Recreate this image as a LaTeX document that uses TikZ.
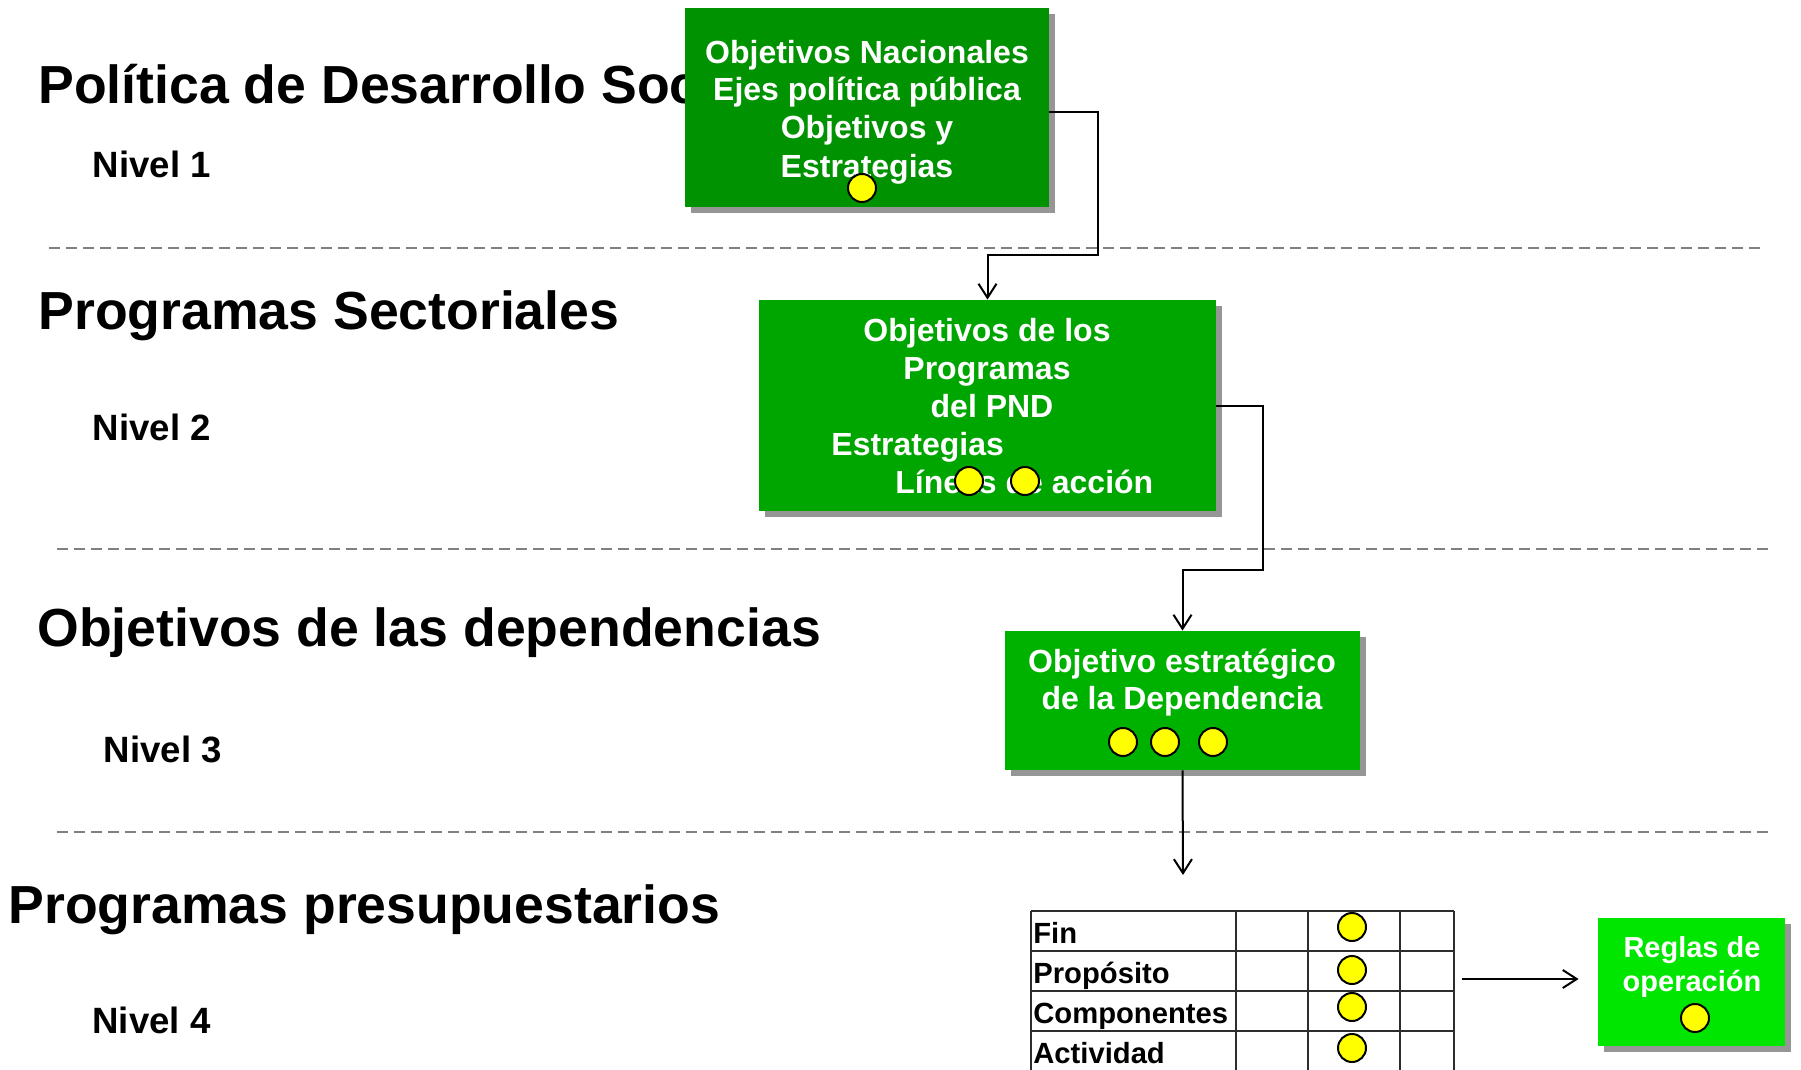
\documentclass[tikz,border=0pt]{standalone}
\usepackage{fontspec}
\setmainfont{Liberation Sans}
\usetikzlibrary{arrows.meta,shadows}
\definecolor{gA}{RGB}{0,146,0}
\definecolor{gB}{RGB}{0,166,0}
\definecolor{gC}{RGB}{0,178,0}
\definecolor{gD}{RGB}{0,230,0}
\definecolor{sepgray}{RGB}{128,128,128}
\definecolor{shadowgray}{RGB}{150,150,150}
\definecolor{tgray}{RGB}{45,45,45}
\definecolor{dotyellow}{RGB}{255,255,0}
\begin{document}
\begin{tikzpicture}[x=0.5pt,y=-0.5pt,
  hd/.style={anchor=base west, inner sep=0, font=\fontsize{26.8pt}{30pt}\selectfont\bfseries},
  niv/.style={anchor=base west, inner sep=0, font=\fontsize{18.3pt}{21pt}\selectfont\bfseries},
  bt/.style={anchor=base, inner sep=0, text=white, font=\fontsize{16pt}{19pt}\selectfont\bfseries},
  btl/.style={bt, anchor=base west},
  rt/.style={anchor=base, inner sep=0, text=white, font=\fontsize{14.5pt}{17pt}\selectfont\bfseries},
  tt/.style={anchor=base west, inner sep=0, font=\fontsize{14.6pt}{17pt}\selectfont\bfseries},
  gbox/.style={rectangle, inner sep=0, general shadow={fill=shadowgray, shadow xshift=3pt, shadow yshift=-3pt}},
  dot/.style={circle, draw=black, line width=1pt, fill=dotyellow, minimum size=14pt, inner sep=0},
  conn/.style={draw=black, line width=1pt, -{Straight Barb[length=7pt,width=9pt]}},
  sep/.style={draw=sepgray, line width=1pt, dash pattern=on 5.5pt off 3pt},
  tline/.style={draw=tgray, line width=1pt}
]
\useasboundingbox[fill=white] (0,0) rectangle (1801,1070);

% separators
\draw[sep] (49,248) -- (1761,248);
\draw[sep] (57,549) -- (1769,549);
\draw[sep] (57,832) -- (1769,832);

% headings
\node[hd] (h1) at (38,104) {Política de Desarrollo Social};
\node[hd] (h2) at (38,329) {Programas Sectoriales};
\node[hd] (h3) at (37,646) {Objetivos de las dependencias};
\node[hd] (h4) at (8,923) {Programas presupuestarios};

\node[niv] (n1) at (92.5,177) {Nivel 1};
\node[niv] (n2) at (92.5,440) {Nivel 2};
\node[niv] (n3) at (103.5,762) {Nivel 3};
\node[niv] (n4) at (92,1033) {Nivel 4};

% boxes
\node[gbox, fill=gA, minimum width=182pt, minimum height=99.5pt] (b1) at (867,107.5) {};
\node[gbox, fill=gB, minimum width=228.5pt, minimum height=105.5pt] (b2) at (987.5,405.5) {};
\node[gbox, fill=gC, minimum width=177.5pt, minimum height=69.5pt] (b3) at (1182.5,700.5) {};
\node[gbox, fill=gD, minimum width=93.5pt, minimum height=64pt] (rg) at (1691.5,982) {};

% box texts
\node[bt] (b1a) at (867,64) {Objetivos Nacionales};
\node[bt] (b1b) at (867,101) {Ejes política pública};
\node[bt] (b1c) at (867,139) {Objetivos y};
\node[bt] (b1d) at (867,177) {Estrategias};

\node[bt] (b2a) at (987,341) {Objetivos de los};
\node[bt] (b2b) at (987,379) {Programas};
\node[bt] (b2c) at (992,417) {del PND};
\node[btl] (b2d) at (831,455) {Estrategias};
\node[btl] (b2e) at (895,493) {Líneas de acción};

\node[bt] (b3a) at (1182,672) {Objetivo estratégico};
\node[bt] (b3b) at (1182,709) {de la Dependencia};

\node[rt] (rga) at (1692,957) {Reglas de};
\node[rt] (rgb) at (1692,991) {operación};

% table
\node[inner sep=0, minimum width=211.5pt, minimum height=80pt] (tbl) at (1242.5,991) {};
\foreach \yy in {911,951,991,1031} \draw[tline] (1031,\yy) -- (1454,\yy);
\foreach \xx in {1031,1236,1308,1400,1454} \draw[tline] (\xx,911) -- (\xx,1072);
\node[tt] (ta) at (1033,943) {Fin};
\node[tt] (tb) at (1033,983) {Propósito};
\node[tt] (tc) at (1033,1023) {Componentes};
\node[tt] (td) at (1033,1063) {Actividad};

% dots
\node[dot] (d1) at (862,188) {};
\node[dot] (d2) at (969,481) {};
\node[dot] (d3) at (1025,481) {};
\node[dot] (d4) at (1123,742) {};
\node[dot] (d5) at (1165,742) {};
\node[dot] (d6) at (1213,742) {};
\node[dot] (d7) at (1352,927) {};
\node[dot] (d8) at (1352,970) {};
\node[dot] (d9) at (1352,1007) {};
\node[dot] (d10) at (1352,1048) {};
\node[dot] (d11) at (1695,1018) {};

% connectors
\draw[conn] ([yshift=-2.25pt]b1.east) -| (1098,255) -| (b2.north);
\draw[conn] (b2.east) -| (1263,570) -| (b3.north);
\coordinate (c3) at (1183,875);
\draw[conn] (b3.south) -- (c3);
\draw[conn] ([xshift=4pt,yshift=6pt]tbl.east) -- ([xshift=-9.5pt,yshift=1.5pt]rg.west);
\end{tikzpicture}
\end{document}
